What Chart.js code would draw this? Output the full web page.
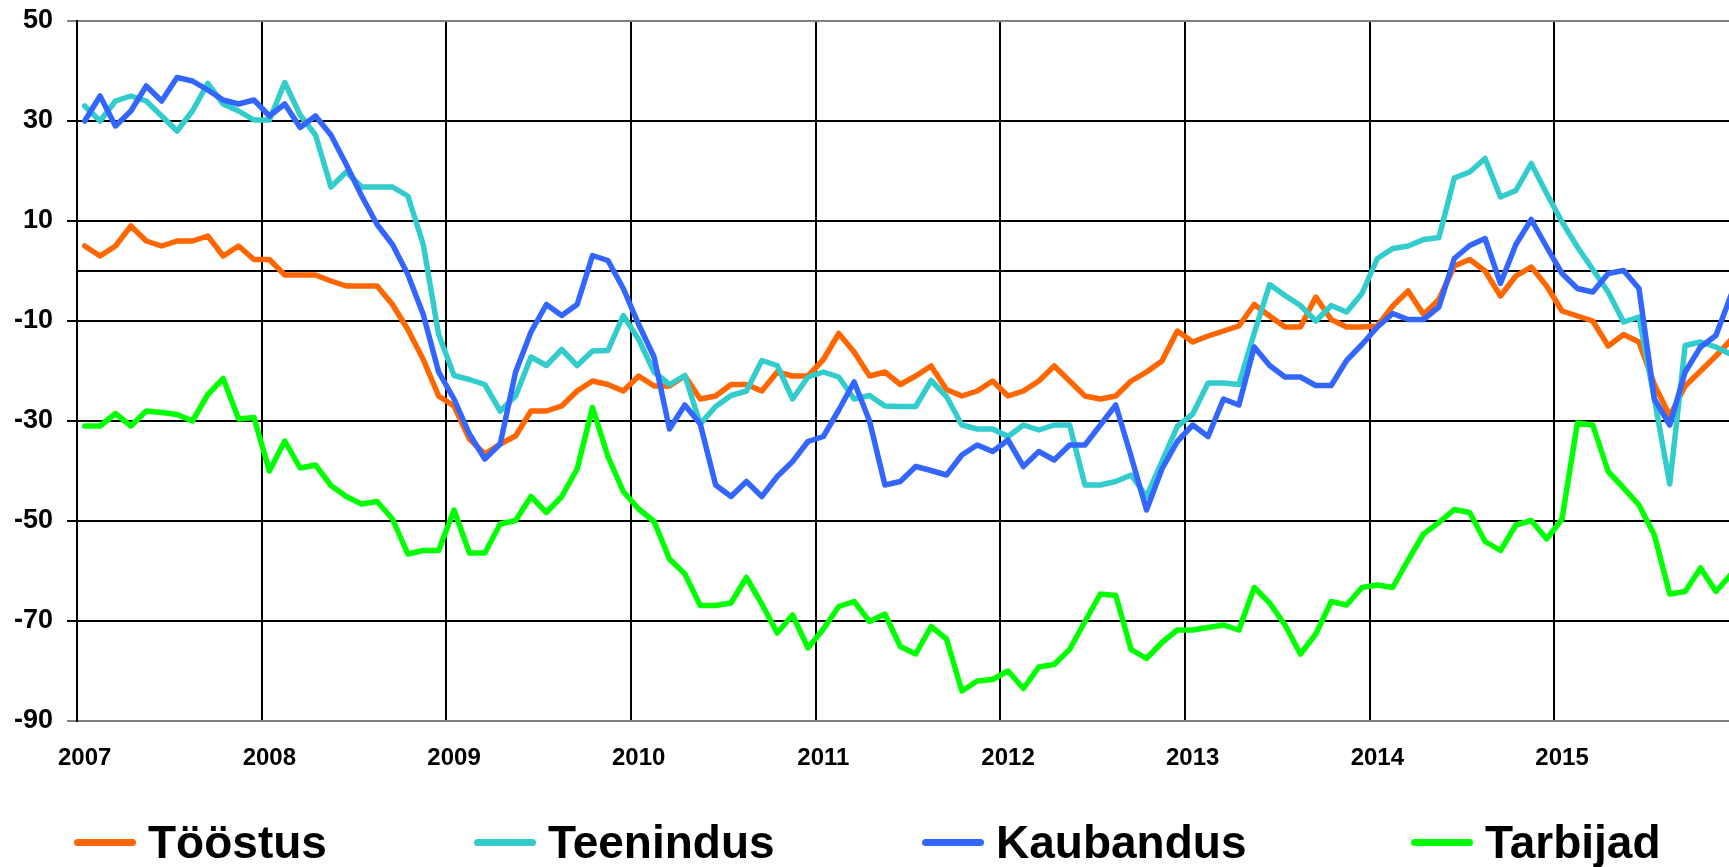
<!DOCTYPE html>
<html>
<head>
<meta charset="utf-8">
<script src="https://cdn.jsdelivr.net/npm/chart.js@4.4.1/dist/chart.umd.min.js"></script>
<style>
html, body { margin: 0; padding: 0; background: #fff; overflow: hidden; width: 1729px; height: 867px; }
#wrap { position: absolute; left: 0; top: 0; width: 1739px; height: 867px; }
.leg { position: absolute; top: 819px; height: 46px; display: flex; align-items: center; white-space: nowrap;
       font: 700 46px 'Liberation Sans', Arial, sans-serif; line-height: 46px; color: #000; }
.leg i { display: block; width: 62px; height: 7px; border-radius: 3.5px; margin-right: 12px; }
</style>
</head>
<body>
<div id="wrap"><canvas id="c" width="1739" height="867"></canvas></div>
<script>
const years = ['2007','2008','2009','2010','2011','2012','2013','2014','2015'];
const yTicks = [50, 30, 10, -10, -30, -50, -70, -90];
const seriesNames = ['Tööstus', 'Teenindus', 'Kaubandus', 'Tarbijad'];
const seriesColors = ['#FF6600', '#33CCCC', '#3366FF', '#00FF00'];

const toostus = [5,3,5,9,6,5,6,6,7,3,5,2.3,
  2.3,-0.8,-0.8,-0.8,-2,-3,-3,-3,-6.7,-11.7,-17.7,-25,
  -27,-33.6,-36.6,-34.6,-33,-28,-28,-27,-24,-22,-22.7,-24,
  -21,-23,-23,-21,-25.6,-25,-22.7,-22.7,-24,-20.2,-21,-21,
  -17.7,-12.5,-16.2,-21,-20.2,-22.7,-21,-19,-23.7,-25,-24,-22,
  -25,-24,-22,-19,-22,-25,-25.6,-25,-22,-20.2,-18,-12,
  -14.2,-13,-12,-11,-6.7,-9,-11.2,-11.2,-5.2,-9.7,-11.2,-11.2,
  -11,-7,-4,-8.7,-5.7,1,2.3,0,-5,-1,0.8,-3,
  -8,-9,-10,-15,-12.7,-14.2,-22.7,-29,-23,-20,-17,-13.7];

const teenindus = [33,30,34,35,34,31,28,32,37.5,33.4,32,30.2,
  30.2,37.7,31.2,27.2,16.8,19.8,16.8,16.8,16.8,15,5.3,-12.7,
  -20.9,-21.7,-22.7,-28,-25,-17.2,-18.9,-15.7,-18.9,-16,-15.9,-8.9,
  -13.7,-20.2,-22.7,-20.9,-30.6,-27.1,-24.9,-24,-17.9,-18.9,-25.6,-21.2,
  -20.2,-21.2,-25.6,-24.9,-27,-27.1,-27.1,-21.9,-25.1,-30.8,-31.6,-31.6,
  -33.1,-30.8,-31.8,-30.8,-30.8,-42.8,-42.8,-42.1,-40.8,-45.1,-38.1,-31.1,
  -28.6,-22.4,-22.4,-22.7,-12.4,-2.7,-4.9,-6.9,-10,-6.9,-8.2,-4.5,
  2.5,4.5,5,6.3,6.7,18.6,19.8,22.5,14.8,16.1,21.5,15.5,
  9.8,4.8,0.3,-4.2,-10.2,-9.2,-25.6,-42.6,-14.9,-14.2,-15.2,-16.7];

const kaubandus = [30,35,29,32,37,34,38.7,38,36.2,34.2,33.4,34.2,
  31,33.4,28.7,31,27.2,21.3,15,9.3,5.3,-0.7,-8.7,-20.2,
  -25.6,-32.6,-37.6,-34.6,-20.2,-12.2,-6.7,-8.9,-6.7,3.1,2.1,-3.5,
  -10.7,-17.2,-31.6,-26.8,-30.6,-42.8,-45.1,-42.1,-45.1,-41.1,-38.1,-34.1,
  -33.1,-27.8,-22.2,-30,-42.8,-42.1,-39.1,-39.9,-40.8,-36.8,-34.8,-36.1,
  -33.8,-39.1,-36.1,-37.8,-34.8,-34.8,-30.8,-26.8,-37.1,-47.8,-39.6,-34.1,
  -30.8,-33.1,-25.6,-26.8,-15.2,-18.9,-21.2,-21.2,-22.9,-22.9,-17.9,-14.7,
  -11.2,-8.5,-9.7,-9.7,-7.2,2.5,5.1,6.5,-2.5,5.3,10.3,4.8,
  -0.5,-3.5,-4.2,-0.5,0.1,-3.5,-25.6,-30.8,-20.2,-15.2,-12.9,-4.7];

const tarbijad = [-31,-31,-28.5,-31,-28,-28.3,-28.7,-30,-24.7,-21.5,-29.6,-29.3,
  -40,-34,-39.4,-38.8,-42.9,-45.1,-46.6,-46.1,-49.6,-56.6,-55.9,-55.9,
  -47.8,-56.4,-56.4,-50.6,-49.9,-45.1,-48.3,-45.1,-39.6,-27.3,-37.1,-44.1,
  -47.6,-50.1,-57.6,-60.6,-66.9,-66.9,-66.4,-61.3,-66.6,-72.4,-68.8,-75.4,
  -71.6,-67.1,-66.1,-70.1,-68.6,-75.1,-76.6,-71.1,-73.6,-84,-82,-81.7,
  -80,-83.5,-79.2,-78.7,-75.7,-70.1,-64.6,-64.9,-75.7,-77.5,-74.3,-71.8,
  -71.8,-71.3,-70.8,-71.8,-63.3,-66.4,-70.8,-76.6,-72.6,-66.1,-66.8,-63.3,
  -62.8,-63.3,-57.8,-52.6,-50.3,-47.7,-48.3,-54.1,-55.9,-50.8,-49.9,-53.6,
  -49.6,-30.4,-30.8,-40.1,-43.4,-46.8,-52.8,-64.6,-64.1,-59.4,-64.1,-60.6];

const seriesData = [toostus, teenindus, kaubandus, tarbijad];
const months = years.flatMap(y => Array.from({length: 12}, (_, m) => y + '-' + String(m + 1).padStart(2, '0')));

const FONT = "'Liberation Sans', Arial, sans-serif";
const edge = v => v === 50 || v === -90;

new Chart(document.getElementById('c'), {
  type: 'line',
  data: {
    labels: months,
    datasets: seriesNames.map((name, k) => ({
      label: name,
      data: seriesData[k],
      borderColor: seriesColors[k],
      backgroundColor: seriesColors[k],
      borderWidth: 5.5,
      pointRadius: 0,
      pointHoverRadius: 0,
      tension: 0,
      fill: false,
      borderJoinStyle: 'round',
      borderCapStyle: 'round',
      order: 3 - k
    }))
  },
  options: {
    responsive: false,
    animation: false,
    devicePixelRatio: 1,
    events: [],
    layout: { padding: { top: 21, left: 0, right: 0, bottom: 0 } },
    plugins: { legend: { display: false }, tooltip: { enabled: false } },
    scales: {
      x: {
        type: 'category',
        offset: true,
        grid: {
          offset: true,
          drawTicks: false,
          lineWidth: 2,
          color: c => (c.index % 12 === 0 ? '#000' : 'rgba(0,0,0,0)')
        },
        border: { display: true, color: '#808080', width: 2 },
        ticks: {
          autoSkip: false, maxRotation: 0, minRotation: 0, padding: 22.6,
          color: '#000', font: { family: FONT, size: 24, weight: 'bold' },
          callback: (v, i) => (i % 12 === 0 ? years[i / 12] : '')
        },
        afterFit: s => { s.height = 146; s.paddingLeft = 0; s.paddingRight = 0; }
      },
      y: {
        min: -90, max: 50,
        afterBuildTicks: s => { s.ticks = yTicks.concat([0]).sort((a, b) => a - b).map(v => ({ value: v })); },
        grid: {
          lineWidth: 2, tickLength: 10,
          color: c => (c.tick && edge(c.tick.value) ? '#808080' : '#000'),
          tickColor: c => (c.tick && c.tick.value === 0 ? 'rgba(0,0,0,0)' : (c.tick && edge(c.tick.value) ? '#808080' : '#000'))
        },
        border: { display: true, color: '#000', width: 2 },
        ticks: {
          padding: 14, color: '#000', font: { family: FONT, size: 27, weight: 'bold' },
          callback: v => (v === 0 ? '' : String(v))
        },
        afterFit: s => { s.width = 77; s.paddingTop = 0; s.paddingBottom = 0; }
      }
    }
  }
});

const legendLeft = [74, 474, 922, 1411];
seriesNames.forEach((name, k) => {
  const d = document.createElement('div');
  d.className = 'leg';
  d.style.left = legendLeft[k] + 'px';
  const sw = document.createElement('i');
  sw.style.background = seriesColors[k];
  const t = document.createElement('span');
  t.textContent = name;
  d.appendChild(sw);
  d.appendChild(t);
  document.body.appendChild(d);
});
</script>
</body>
</html>
